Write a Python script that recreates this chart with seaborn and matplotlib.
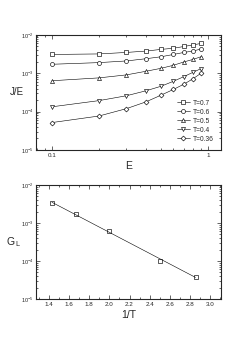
import numpy as np
import pandas as pd
import matplotlib
matplotlib.use("Agg")
import matplotlib.pyplot as plt
import matplotlib.ticker as mticker
import seaborn as sns

# top panel: J/E vs E for several temperatures
E = [0.1, 0.2, 0.3, 0.4, 0.5, 0.6, 0.7, 0.8, 0.9]
je_07 = [3.1e-3, 3.2e-3, 3.5e-3, 3.8e-3, 4.2e-3, 4.5e-3, 5.0e-3, 5.5e-3, 6.0e-3]
je_06 = [1.72e-3, 1.9e-3, 2.1e-3, 2.4e-3, 2.7e-3, 3.1e-3, 3.5e-3, 3.8e-3, 4.3e-3]
je_05 = [6.4e-4, 7.6e-4, 9.1e-4, 1.13e-3, 1.35e-3, 1.62e-3, 1.98e-3, 2.3e-3, 2.7e-3]
je_04 = [1.34e-4, 1.94e-4, 2.6e-4, 3.5e-4, 4.6e-4, 6.2e-4, 8.2e-4, 1.06e-3, 1.32e-3]
je_036 = [5.2e-5, 7.7e-5, 1.2e-4, 1.8e-4, 2.7e-4, 3.8e-4, 5.2e-4, 7.2e-4, 1.0e-3]
labels = ["T=0.7", "T=0.6", "T=0.5", "T=0.4", "T=0.36"]
markers = ["s", "o", "^", "v", "D"]

# bottom panel: G_L vs 1/T
inv_T = [1.4286, 1.6667, 2.0, 2.5, 2.857]
G_L = [3.3e-3, 1.7e-3, 6.3e-4, 1.0e-4, 3.9e-5]

sns.set_style("ticks")
plt.rcParams['font.family'] = ['Liberation Sans', 'DejaVu Sans']
plt.rcParams['mathtext.fontset'] = 'custom'
plt.rcParams['mathtext.rm'] = 'Liberation Sans'
plt.rcParams['mathtext.it'] = 'Liberation Sans'

fig = plt.figure(figsize=(2.45, 3.53), dpi=100)
ax1 = fig.add_axes([0.147, 0.575, 0.755, 0.326])
ax2 = fig.add_axes([0.147, 0.153, 0.755, 0.323])

series = [je_07, je_06, je_05, je_04, je_036]
for vals, lab, m in zip(series, labels, markers):
    ms = 2.5 if m == "D" else 2.9
    sns.lineplot(x=E, y=vals, ax=ax1, color="black", lw=0.4, marker=m,
                 markersize=ms, mfc="white", mec="black", mew=0.45, label=lab)

ax1.set_xscale("log")
ax1.set_yscale("log")
ax1.set_xlim(0.079, 1.21)
ax1.set_ylim(1e-5, 1e-2)
ax1.xaxis.set_major_formatter(mticker.FuncFormatter(lambda v, p: "%g" % v))
ax1.xaxis.set_minor_formatter(mticker.NullFormatter())
ax1.set_xlabel("E", fontsize=7.5, labelpad=2)
ax1.set_ylabel("J/E", fontsize=7, rotation=0, labelpad=3, va="center")
leg = ax1.legend(loc="lower right", frameon=False, fontsize=4.8, handlelength=2.0,
                 handletextpad=0.4, labelspacing=0.3, borderaxespad=0.7)

sns.lineplot(x=inv_T, y=G_L, ax=ax2, color="black", lw=0, marker="s",
             markersize=2.9, mfc="white", mec="black", mew=0.45)
fit = np.polyfit(inv_T, np.log10(G_L), 1)
xf = np.array([inv_T[0], inv_T[-1]])
sns.lineplot(x=xf, y=10 ** np.polyval(fit, xf), ax=ax2, color="black", lw=0.4)
ax2.set_yscale("log")
ax2.set_xlim(1.27, 3.11)
ax2.set_ylim(1e-5, 1e-2)
ax2.xaxis.set_major_locator(mticker.MultipleLocator(0.2))
ax2.xaxis.set_minor_locator(mticker.MultipleLocator(0.1))
ax2.xaxis.set_major_formatter(mticker.FormatStrFormatter("%.1f"))
ax2.set_xlabel("1/T", fontsize=7.5, labelpad=2)
ax2.set_ylabel("G$_{\\,L}$", fontsize=7.5, rotation=0, labelpad=5, va="center")

for ax in (ax1, ax2):
    ax.yaxis.set_minor_formatter(mticker.NullFormatter())
    ax.tick_params(which="both", direction="in", top=True, right=True,
                   width=0.5, labelsize=4.5, pad=2)
    ax.tick_params(which="major", length=3)
    ax.tick_params(which="minor", length=1.5)
    ax.tick_params(axis="y", labelsize=4)
    for s in ax.spines.values():
        s.set_linewidth(0.8)

fig.savefig("out.png", dpi=100)
